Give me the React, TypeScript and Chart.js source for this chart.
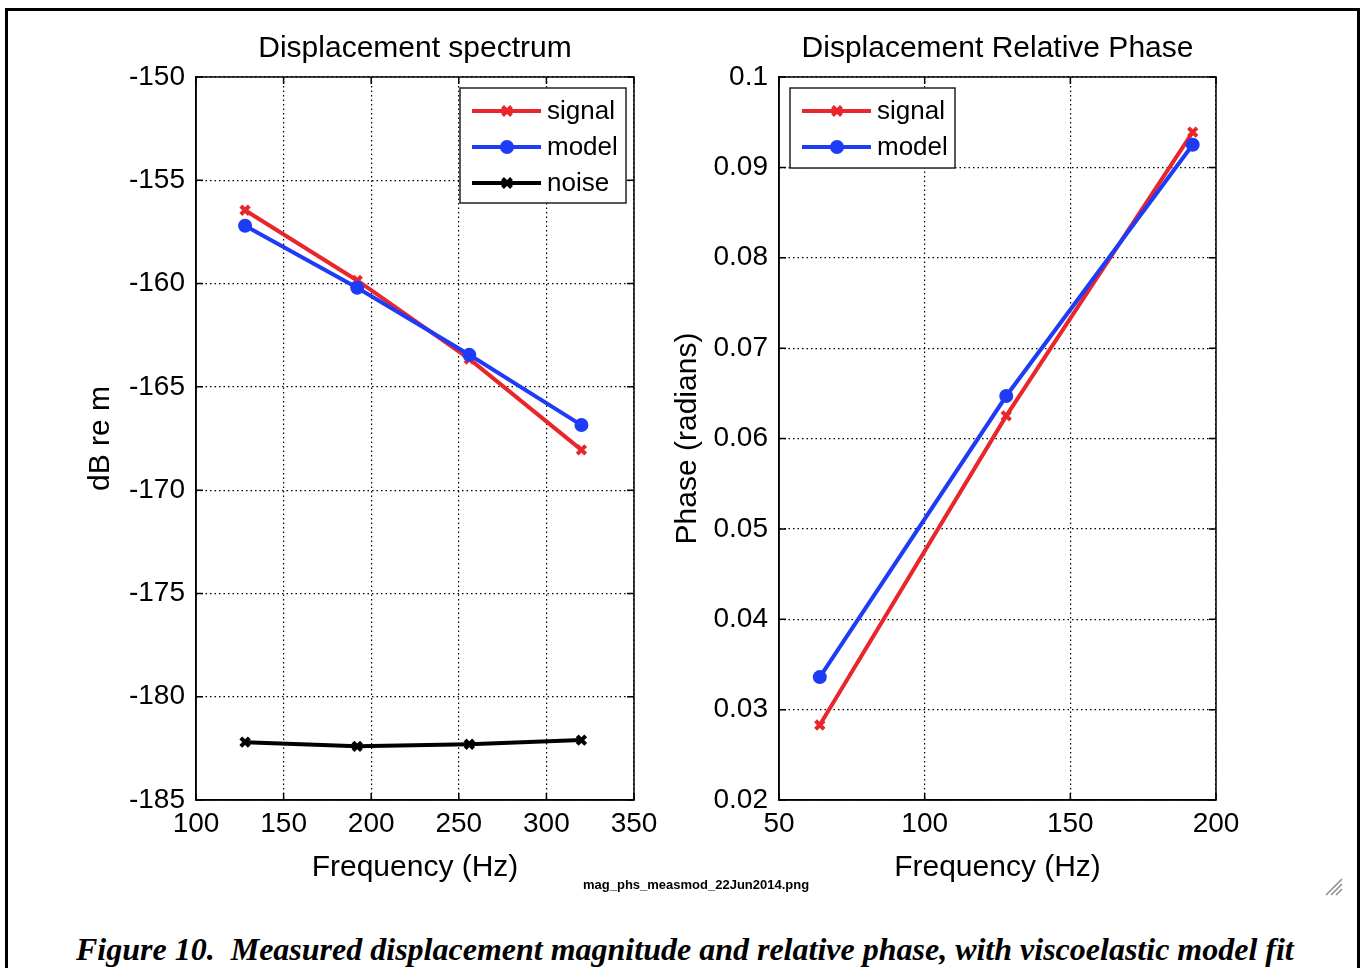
import React, { useEffect, useRef } from "react";
import { Chart, registerables } from "chart.js";

Chart.register(...registerables);

// ---------- data ----------
const magFreqs = [128, 192, 256, 320];
const magSignal = [-156.45, -159.85, -163.65, -168.05];
const magModel = [-157.2, -160.2, -163.45, -166.85];
const magNoise = [-182.2, -182.4, -182.3, -182.1];
const magXTicks = [100, 150, 200, 250, 300, 350];
const magYTicks = [-185, -180, -175, -170, -165, -160, -155, -150];

const phsFreqs = [64, 128, 192];
const phsSignal = [0.0283, 0.0625, 0.0939];
const phsModel = [0.0336, 0.0647, 0.0925];
const phsXTicks = [50, 100, 150, 200];
const phsYTicks = [0.02, 0.03, 0.04, 0.05, 0.06, 0.07, 0.08, 0.09, 0.1];

const RED = "#e8262b";
const BLUE = "#1e3cf6";
const BLACK = "#000000";
const FONT = '"Liberation Sans", Arial, sans-serif';

function pts(xs: number[], ys: number[]) {
  return xs.map((x, i) => ({ x, y: ys[i] }));
}

function drawMarker(ctx: CanvasRenderingContext2D, style: string, x: number, y: number, color: string) {
  ctx.save();
  if (style === "circle") {
    ctx.fillStyle = color;
    ctx.beginPath();
    ctx.arc(x, y, 7, 0, Math.PI * 2);
    ctx.fill();
  } else {
    ctx.strokeStyle = color;
    ctx.lineWidth = 4;
    const r = 4.5;
    ctx.beginPath();
    ctx.moveTo(x - r, y - r);
    ctx.lineTo(x + r, y + r);
    ctx.moveTo(x + r, y - r);
    ctx.lineTo(x - r, y + r);
    ctx.stroke();
  }
  ctx.restore();
}

const decorPlugin = {
  id: "decor",
  afterDraw(chart: any, _args: any, opts: any) {
    const ctx: CanvasRenderingContext2D = chart.ctx;
    const a = chart.chartArea;
    const xs = chart.scales.x;
    const ys = chart.scales.y;
    ctx.save();
    // box
    ctx.strokeStyle = "#000";
    ctx.lineWidth = 1.5;
    ctx.strokeRect(a.left, a.top, a.right - a.left, a.bottom - a.top);
    // inward ticks
    const tl = 7;
    ctx.beginPath();
    xs.ticks.forEach((t: any) => {
      const px = xs.getPixelForValue(t.value);
      ctx.moveTo(px, a.bottom);
      ctx.lineTo(px, a.bottom - tl);
      ctx.moveTo(px, a.top);
      ctx.lineTo(px, a.top + tl);
    });
    ys.ticks.forEach((t: any) => {
      const py = ys.getPixelForValue(t.value);
      ctx.moveTo(a.left, py);
      ctx.lineTo(a.left + tl, py);
      ctx.moveTo(a.right, py);
      ctx.lineTo(a.right - tl, py);
    });
    ctx.stroke();

    // texts
    ctx.fillStyle = "#000";
    ctx.font = `30px ${FONT}`;
    ctx.textAlign = "center";
    ctx.textBaseline = "alphabetic";
    const cx = (a.left + a.right) / 2;
    ctx.fillText(opts.title, cx, opts.titleY);
    ctx.fillText(opts.xLabel, cx, opts.xLabelY);
    ctx.save();
    ctx.textBaseline = "middle";
    ctx.translate(opts.yLabelX, (a.top + a.bottom) / 2);
    ctx.rotate(-Math.PI / 2);
    ctx.fillText(opts.yLabel, 0, 0);
    ctx.restore();

    // legend
    const L = opts.legend;
    if (L) {
      const items = chart.data.datasets;
      ctx.fillStyle = "#fff";
      ctx.fillRect(L.x, L.y, L.w, L.h);
      ctx.strokeStyle = "#222";
      ctx.lineWidth = 1.5;
      ctx.strokeRect(L.x, L.y, L.w, L.h);
      items.forEach((ds: any, i: number) => {
        const y = L.y + 23 + i * 36;
        ctx.strokeStyle = ds.borderColor;
        ctx.lineWidth = 4;
        ctx.beginPath();
        ctx.moveTo(L.x + 12, y);
        ctx.lineTo(L.x + 81, y);
        ctx.stroke();
        drawMarker(ctx, ds.pointStyle, L.x + 47, y, ds.borderColor);
        ctx.fillStyle = "#000";
        ctx.font = `26px ${FONT}`;
        ctx.textAlign = "left";
        ctx.textBaseline = "middle";
        ctx.fillText(ds.label, L.x + 87, y + 1);
      });
    }
    ctx.restore();
  },
};

function makeDataset(label: string, data: any[], color: string, style: string, order: number) {
  return {
    label,
    data,
    borderColor: color,
    backgroundColor: color,
    borderWidth: 4,
    pointStyle: style,
    pointRadius: style === "circle" ? 7 : 6,
    pointBorderWidth: style === "circle" ? 0 : 4,
    pointBackgroundColor: color,
    pointBorderColor: color,
    pointHoverRadius: 0,
    tension: 0,
    fill: false,
    order,
  };
}

function axisOpts(min: number, max: number, ticks: number[], pos: "x" | "y", fixed: number, fmt?: (v: number) => string) {
  return {
    type: "linear",
    min,
    max,
    afterBuildTicks: (s: any) => {
      s.ticks = ticks.map((v) => ({ value: v }));
    },
    afterFit: (s: any) => {
      if (pos === "y") {
        s.width = fixed;
        s.paddingTop = 0;
        s.paddingBottom = 0;
      } else {
        s.height = fixed;
        s.paddingLeft = 0;
        s.paddingRight = 0;
      }
    },
    grid: {
      display: true,
      color: "#000",
      lineWidth: 1.2,
      drawTicks: false,
    },
    border: { display: true, color: "#000", width: 1.5, dash: [1.5, 3] },
    ticks: {
      color: "#000",
      font: { family: FONT, size: 28 },
      padding: pos === "y" ? 11 : 7,
      autoSkip: false,
      maxRotation: 0,
      callback: fmt ? (v: any) => fmt(Number(v)) : (v: any) => String(v),
    },
  };
}

function ChartCanvas({ config, left, width, height }: { config: any; left: number; width: number; height: number }) {
  const ref = useRef<HTMLCanvasElement>(null);
  useEffect(() => {
    if (!ref.current) return;
    const c = new Chart(ref.current, config);
    return () => c.destroy();
  }, []);
  return (
    <div style={{ position: "absolute", left, top: 0, width, height }}>
      <canvas ref={ref} width={width} height={height} style={{ width, height, display: "block" }} />
    </div>
  );
}

const LEFT_W = 662;
const H = 900;

const magConfig = {
  type: "line",
  data: {
    datasets: [
      makeDataset("signal", pts(magFreqs, magSignal), RED, "crossRot", 2),
      makeDataset("model", pts(magFreqs, magModel), BLUE, "circle", 1),
      makeDataset("noise", pts(magFreqs, magNoise), BLACK, "crossRot", 3),
    ],
  },
  options: {
    animation: false,
    responsive: false,
    maintainAspectRatio: false,
    layout: { padding: { left: 0, top: 77, right: LEFT_W - 634, bottom: 0 } },
    plugins: {
      legend: { display: false },
      tooltip: { enabled: false },
      decor: {
        title: "Displacement spectrum",
        titleY: 57,
        xLabel: "Frequency (Hz)",
        xLabelY: 876,
        yLabel: "dB re m",
        yLabelX: 101,
        legend: { x: 460, y: 88, w: 166, h: 115 },
      },
    },
    scales: {
      x: axisOpts(100, 350, magXTicks, "x", H - 800),
      y: axisOpts(-185, -150, magYTicks, "y", 196),
    },
  },
  plugins: [decorPlugin],
};

const RW = 1360 - LEFT_W;
const phsConfig = {
  type: "line",
  data: {
    datasets: [
      makeDataset("signal", pts(phsFreqs, phsSignal), RED, "crossRot", 2),
      makeDataset("model", pts(phsFreqs, phsModel), BLUE, "circle", 1),
    ],
  },
  options: {
    animation: false,
    responsive: false,
    maintainAspectRatio: false,
    layout: { padding: { left: 0, top: 77, right: RW - (1216 - LEFT_W), bottom: 0 } },
    plugins: {
      legend: { display: false },
      tooltip: { enabled: false },
      decor: {
        title: "Displacement Relative Phase",
        titleY: 57,
        xLabel: "Frequency (Hz)",
        xLabelY: 876,
        yLabel: "Phase (radians)",
        yLabelX: 688 - LEFT_W,
        legend: { x: 790 - LEFT_W, y: 88, w: 165, h: 80 },
      },
    },
    scales: {
      x: axisOpts(50, 200, phsXTicks, "x", H - 800),
      y: axisOpts(0.02, 0.1, phsYTicks, "y", 779 - LEFT_W, (v) => String(+v.toFixed(2))),
    },
  },
  plugins: [decorPlugin],
};

export default function App() {
  return (
    <div
      style={{
        position: "absolute",
        left: 0,
        top: 0,
        width: 1360,
        height: 968,
        overflow: "hidden",
        background: "#fff",
      }}
    >
      <div
        style={{
          position: "absolute",
          left: 5,
          top: 8,
          width: 1349,
          height: 1000,
          border: "3px solid #000",
        }}
      />
      <ChartCanvas config={magConfig} left={0} width={LEFT_W} height={H} />
      <ChartCanvas config={phsConfig} left={LEFT_W} width={RW} height={H} />
      <div
        style={{
          position: "absolute",
          left: 583,
          top: 877,
          fontFamily: FONT,
          fontSize: 13,
          fontWeight: "bold",
          color: "#000",
          whiteSpace: "pre",
          lineHeight: "16px",
        }}
      >
        mag_phs_measmod_22Jun2014.png
      </div>
      <svg
        style={{ position: "absolute", left: 1322, top: 874 }}
        width={24}
        height={24}
        viewBox="0 0 24 24"
      >
        <line x1={4} y1={21} x2={20} y2={5} stroke="#888" strokeWidth={1.5} />
        <line x1={9} y1={21} x2={20} y2={10} stroke="#888" strokeWidth={1.5} />
        <line x1={14} y1={21} x2={20} y2={15} stroke="#888" strokeWidth={1.5} />
      </svg>
      <div
        style={{
          position: "absolute",
          left: 76,
          top: 929,
          fontFamily: '"Liberation Serif", "Times New Roman", serif',
          fontSize: 32,
          fontWeight: "bold",
          fontStyle: "italic",
          color: "#000",
          whiteSpace: "pre",
          lineHeight: "40px",
        }}
      >
        {"Figure 10.  Measured displacement magnitude and relative phase, with viscoelastic model fit"}
      </div>
    </div>
  );
}
